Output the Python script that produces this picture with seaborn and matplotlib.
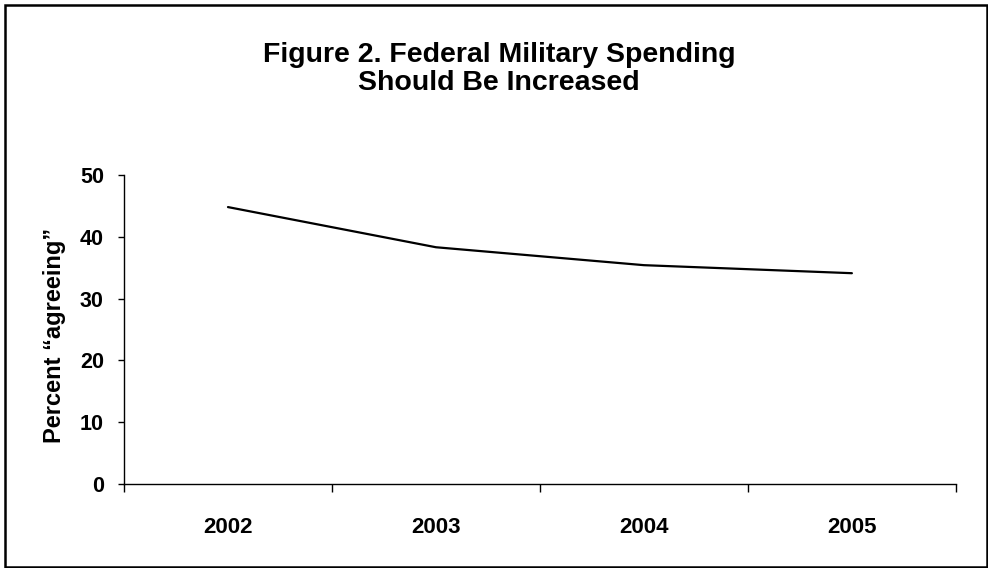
""" Line chart: federal military spending should be increased """
import matplotlib
matplotlib.use('Agg')
import matplotlib.pyplot as plt
from matplotlib.patches import Rectangle
from matplotlib.ticker import FixedLocator, NullFormatter
import pandas as pd
import seaborn as sns

years = ['2002', '2003', '2004', '2005']
agreeing = [44.8, 38.3, 35.4, 34.1]
y_ticks = [0, 10, 20, 30, 40, 50]

sns.set_theme(style='white')
plt.rcParams['font.family'] = ['Liberation Sans', 'DejaVu Sans']
plt.rcParams['font.weight'] = 'bold'
plt.rcParams['text.color'] = 'black'
plt.rcParams['xtick.color'] = 'black'
plt.rcParams['ytick.color'] = 'black'
plt.rcParams['axes.labelcolor'] = 'black'

df = pd.DataFrame({'Year': years, 'Percent': agreeing})

fig = plt.figure(figsize=(9.88, 5.68), dpi=100)
ax = fig.add_axes([0.1255, 0.148, 0.842, 0.544])

sns.lineplot(data=df, x='Year', y='Percent', ax=ax, color='black',
             linewidth=1.6, sort=False)

ax.set_xlim(-0.5, len(years) - 0.5)
ax.set_ylim(0, 50)
ax.set_yticks(y_ticks)
ax.set_yticklabels([str(t) for t in y_ticks], fontsize=15.5, fontweight='bold')

# ticks at category boundaries, labels at category centres
ax.xaxis.set_major_locator(FixedLocator([i - 0.5 for i in range(len(years) + 1)]))
ax.xaxis.set_major_formatter(NullFormatter())
ax.xaxis.set_minor_locator(FixedLocator(list(range(len(years)))))
ax.set_xticklabels(years, minor=True, fontsize=16, fontweight='bold')
ax.tick_params(axis='x', which='major', direction='out', length=6, width=1,
               color='black', bottom=True)
ax.tick_params(axis='x', which='minor', length=0, pad=24)
ax.tick_params(axis='y', direction='out', length=4.5, width=1, color='black',
               left=True, pad=10)

ax.set_xlabel('')
ax.set_ylabel('Percent \u201cagreeing\u201d', fontsize=17, fontweight='bold')
ax.yaxis.set_label_coords(-0.07, 0.48)

for side in ['top', 'right']:
    ax.spines[side].set_visible(False)
for side in ['left', 'bottom']:
    ax.spines[side].set_color('black')
    ax.spines[side].set_linewidth(1)

fig.text(0.505, 0.878, 'Figure 2. Federal Military Spending\nShould Be Increased',
         ha='center', va='center', fontsize=20.5, fontweight='bold',
         linespacing=1.12)

fig.patches.append(Rectangle((0.005, 0.002), 0.994, 0.989, transform=fig.transFigure,
                             fill=False, edgecolor='black', linewidth=1.8))

fig.savefig('out.png', dpi=100)
